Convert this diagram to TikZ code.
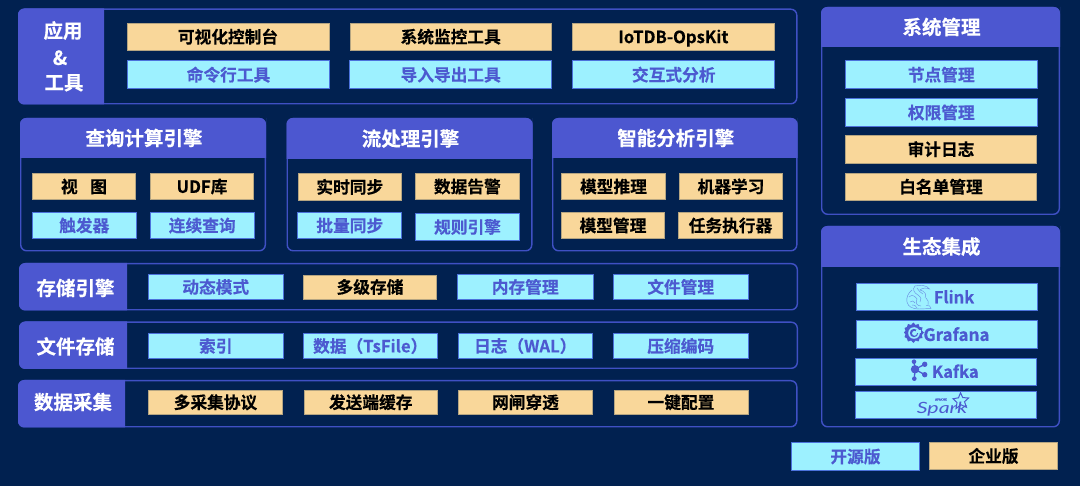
\documentclass[tikz,border=0pt]{standalone}
\usepackage{fontspec}
\setmainfont{Noto Sans CJK SC}[BoldFont={* Bold},BoldFeatures={FakeBold=0.3}]
\newfontfamily\sparkfont{Lato}[FakeStretch=1.38]
\definecolor{bgc}{HTML}{012150}
\definecolor{headc}{HTML}{4C57D0}
\definecolor{edgec}{HTML}{3F50C4}
\definecolor{cyanc}{HTML}{9DF1FF}
\definecolor{sandc}{HTML}{F9D79A}
\definecolor{inkc}{HTML}{4C5AD0}
\definecolor{cyanedge}{HTML}{4B72DC}
\definecolor{sandedge}{HTML}{B5A582}
\definecolor{furc}{HTML}{6C90E4}
\tikzset{
  x=1pt,y=-1pt,
  every node/.style={font=\bfseries,inner sep=0pt,outer sep=0pt,align=center},
  panel/.style={draw=edgec,line width=1.4pt,fill=bgc,rounded corners=6pt},
  headfill/.style={fill=headc},
  headtext/.style={text=white,font=\bfseries\fontsize{19.5}{22}\selectfont,text height=17.2pt,text depth=2.3pt},
  opentag/.style={draw=cyanedge,line width=.9pt,fill=cyanc,text=inkc,font=\bfseries\fontsize{16.7}{20}\selectfont,text height=14.7pt,text depth=2pt},
  paidtag/.style={draw=sandedge,line width=.5pt,fill=sandc,text=black,font=\bfseries\fontsize{16.7}{20}\selectfont,text height=14.7pt,text depth=2pt},
  logotext/.style={text=inkc,font=\bfseries\fontsize{#1}{20}\selectfont,text height=.88*#1 pt,text depth=.12*#1 pt},
  fur/.style={draw=furc,line width=.45pt,fill=none}
}
% name, style, x0, y0, x1, y1, text
\newcommand\tagbox[7]{%
  \pgfmathsetmacro\tw{#5-#3-.7}\pgfmathsetmacro\th{#6-#4-.7}%
  \node[#2,minimum width=\tw pt,minimum height=\th pt] (#1) at ({(#3+#5)/2},{(#4+#6)/2}) {#7};}
% top-header panel: name x0 y0 x1 y1 yh title
\newcommand\toppanel[7]{%
  \draw[panel] (#2+.7,#3+.7) rectangle (#4-.7,#5-.7);
  \fill[headfill,rounded corners=6pt] (#2,#6) [sharp corners] -- (#2,#3+6) [rounded corners=6pt] -- (#2,#3) -- (#4,#3) -- (#4,#3+6) [sharp corners] -- (#4,#6) -- cycle;
  \node[headtext] (#1) at ({(#2+#4)/2+1},{(#3+#6)/2}) {#7};}
% left-header panel: x0 y0 x1 y1 xh
\newcommand\leftpanel[5]{%
  \draw[panel] (#1+.7,#2+.7) rectangle (#3-.7,#4-.7);
  \fill[headfill] (#5,#2) -- (#1+6,#2) .. controls (#1+2.7,#2) and (#1,#2+2.7) .. (#1,#2+6) -- (#1,#4-6) .. controls (#1,#4-2.7) and (#1+2.7,#4) .. (#1+6,#4) -- (#5,#4) -- cycle;}
\begin{document}
\begin{tikzpicture}
\useasboundingbox[fill=bgc] (0,0) rectangle (1080,486);

% application and tools
\leftpanel{18}{8.5}{797.5}{104.5}{104}
\node[headtext] (lblA) at (63,30.5) {应用};
\node[headtext] (lblB) at (60,57.5) {\&};
\node[headtext] (lblC) at (64,82.3) {工具};
\tagbox{a1}{paidtag}{126.5}{23}{329.5}{50.5}{可视化控制台}
\tagbox{a2}{paidtag}{349.5}{23}{552}{50.5}{系统监控工具}
\tagbox{a3}{paidtag}{572}{23}{774.7}{50.5}{IoTDB-OpsKit}
\tagbox{a4}{opentag}{127}{60.5}{330}{89}{命令行工具}
\tagbox{a5}{opentag}{349.5}{60.5}{552}{89}{导入导出工具}
\tagbox{a6}{opentag}{572.5}{60.5}{775}{89}{交互式分析}

% query engine
\toppanel{qh}{20}{118}{266}{251.5}{158}{查询计算引擎}
\tagbox{q1}{paidtag}{32}{173}{136}{200}{视\hspace{.75em}图}
\tagbox{q2}{paidtag}{150}{173}{254}{200}{UDF库}
\tagbox{q3}{opentag}{32}{212}{136.5}{239}{触发器}
\tagbox{q4}{opentag}{150}{212}{254.5}{239}{连续查询}

% stream engine
\toppanel{sh}{286.5}{118}{532.5}{251.5}{159}{流处理引擎}
\tagbox{s1}{paidtag}{297.5}{173}{402}{201}{实时同步}
\tagbox{s2}{paidtag}{414.7}{173}{520}{200}{数据告警}
\tagbox{s3}{opentag}{297.5}{212}{402}{239}{批量同步}
\tagbox{s4}{opentag}{415}{213}{520}{241}{规则引擎}

% AI engine
\toppanel{ih}{552}{118}{797.5}{251.5}{158}{智能分析引擎}
\tagbox{i1}{paidtag}{561}{173}{666}{200}{模型推理}
\tagbox{i2}{paidtag}{679}{173}{783}{200}{机器学习}
\tagbox{i3}{paidtag}{561}{212}{665}{239}{模型管理}
\tagbox{i4}{paidtag}{678}{212}{783}{239}{任务执行器}

% storage engine
\leftpanel{19}{263}{798}{310.5}{127}
\node[headtext] (lblS) at (75.5,288) {存储引擎};
\tagbox{e1}{opentag}{148}{274.5}{283.5}{299.5}{动态模式}
\tagbox{e2}{paidtag}{303}{274.5}{437}{299.5}{多级存储}
\tagbox{e3}{opentag}{457}{274.5}{593.5}{299.5}{内存管理}
\tagbox{e4}{opentag}{613}{274.5}{748.5}{299.5}{文件管理}

% file storage
\leftpanel{19}{321.5}{798}{369}{127}
\node[headtext] (lblF) at (75.5,346.5) {文件存储};
\tagbox{f1}{opentag}{148}{333.5}{283.5}{358.5}{索引}
\tagbox{f2}{opentag}{303}{333.5}{437.5}{358.5}{数据（TsFile）}
\tagbox{f3}{opentag}{458}{333.5}{592.5}{358.5}{日志（WAL）}
\tagbox{f4}{opentag}{613}{333.5}{748.5}{358.5}{压缩编码}

% data collection
\leftpanel{18}{380}{797.5}{427.5}{125}
\node[headtext] (lblD) at (73,402) {数据采集};
\tagbox{d1}{paidtag}{148}{390}{283}{414.5}{多采集协议}
\tagbox{d2}{paidtag}{303.5}{390}{438}{414.5}{发送端缓存}
\tagbox{d3}{paidtag}{458}{390}{593}{414.5}{网闸穿透}
\tagbox{d4}{paidtag}{613.5}{390}{748.5}{414.5}{一键配置}

% system management
\toppanel{mh}{821}{7}{1060}{215}{47}{系统管理}
\tagbox{m1}{opentag}{845}{60.5}{1037.5}{89}{节点管理}
\tagbox{m2}{opentag}{845}{98.5}{1037.5}{126.5}{权限管理}
\tagbox{m3}{paidtag}{845}{135}{1037}{163.5}{审计日志}
\tagbox{m4}{paidtag}{845}{173}{1037}{200.5}{白名单管理}

% ecosystem
\toppanel{ch}{821}{226}{1060}{427.5}{267}{生态集成}
\tagbox{c1}{opentag}{856.5}{283.5}{1037.5}{311}{}
\tagbox{c2}{opentag}{856.5}{320.5}{1037.5}{348.5}{}
\tagbox{c3}{opentag}{855.5}{358.5}{1036.5}{385.5}{}
\tagbox{c4}{opentag}{855.5}{391.5}{1036.5}{418.5}{}

% Flink logo
\draw[fur] (915,286) .. controls (921,284.5) and (927,285.5) .. (929.5,289) .. controls (926,287.5) and (922,288) .. (920,290) .. controls (925,291) and (927,295) .. (925,298);
\draw[fur] (915,286) .. controls (912,289) and (914,293) .. (918,295) .. controls (921,297) and (922,300) .. (920,302);
\draw[fur] (912,290) .. controls (908,293) and (906,298) .. (907,302) .. controls (908,307) and (913,309) .. (919,309) -- (931,308.5) .. controls (931,306) and (929,305) .. (926,305.5);
\draw[fur] (909,297) .. controls (912,294) and (915,296) .. (917,299) .. controls (915,303) and (917,306) .. (921,306);
\draw[fur] (910,302) .. controls (912,300) and (914,301) .. (915,303) (912,305) .. controls (914,304) and (916,306) .. (917,308);
\draw[fur] (917,288) .. controls (919,291) and (921,293) .. (923,294) (926,298) .. controls (928,300) and (929,302) .. (928,305);
\node[logotext=16.5] (flink) at (954,297) {Flink};

% Grafana logo
\fill[inkc] plot[smooth cycle,tension=.25] coordinates {
  (913.5,322.5) (915.5,325) (918.5,324) (919.5,327) (922.5,327.5) (921.8,330.5) (924,332.5) (921.8,335)
  (922.5,338) (919.5,338.5) (918.5,341.5) (915.5,340.5) (913.5,343) (911,340.5) (908,341.5) (907,338.5)
  (904.5,337) (905.5,334.5) (904,332.5) (905.5,330.5) (904.5,328) (907,327) (908,324) (911,325)};
\fill[cyanc] (914,333) circle[radius=5.8];
\fill[inkc] (914,333) circle[radius=4.2];
\fill[cyanc] (914.5,333.3) circle[radius=2.4];
\fill[cyanc] (916,329.6) rectangle (920.5,333);
\node[logotext=17] (grafana) at (956.5,334.5) {Grafana};

% Kafka logo
\draw[inkc,line width=1.3pt] (914,361.7) -- (915,369.3) -- (914.3,378.7) (924.7,364.3) -- (915,369.3) -- (924.7,374.7);
\fill[inkc] (915,369.3) circle[radius=4.2] (914,361.7) circle[radius=2.3] (914.3,378.7) circle[radius=2.3] (924.7,364.3) circle[radius=2.7] (924.7,374.7) circle[radius=2.7];
\node[logotext=16.5] (kafka) at (955.3,371.5) {Kafka};

% Spark logo
\node[text=inkc,font=\sparkfont\itshape\fontsize{15.5}{18}\selectfont,text height=11.3pt,text depth=3.5pt] (spark) at (942,409.4) {Spark};
\node[text=inkc,font=\bfseries\fontsize{3}{4}\selectfont,text height=2pt,text depth=0pt] (apache) at (941,399.6) {APACHE};
\draw[inkc,line width=1pt,line join=miter] (960.5,392.8) -- (962.8,397.6) -- (968.6,398) -- (964.5,401.7) -- (966.5,407.3) -- (961,404.8) -- (956,408.5) -- (957,402.5) -- (953,398.8) -- (958.5,397.8) -- cycle;

% legend
\tagbox{l1}{opentag}{791}{442.5}{920}{470.5}{开源版}
\tagbox{l2}{paidtag}{929}{442}{1058}{470}{企业版}
\end{tikzpicture}
\end{document}
